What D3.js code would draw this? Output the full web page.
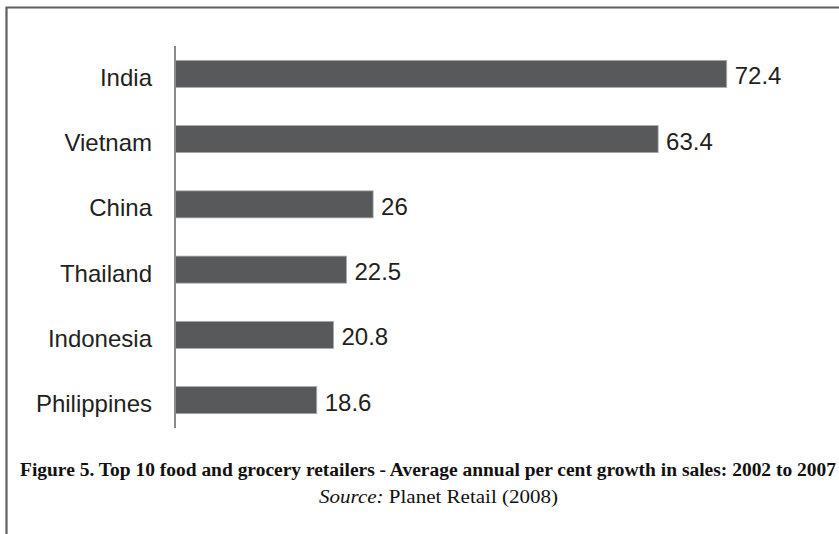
<!DOCTYPE html>
<html>
<head>
<meta charset="utf-8">
<script src="https://cdn.jsdelivr.net/npm/d3@7"></script>
<style>
  html, body { margin: 0; padding: 0; background: #fff; }
  svg { display: block; }
</style>
</head>
<body>
<svg id="chart" width="839" height="534"></svg>
<script>
const categories = ["India", "Vietnam", "China", "Thailand", "Indonesia", "Philippines"];
const values = [72.4, 63.4, 26, 22.5, 20.8, 18.6];
const valueLabels = ["72.4", "63.4", "26", "22.5", "20.8", "18.6"];
const captionTitle = "Figure 5. Top 10 food and grocery retailers - Average annual per cent growth in sales: 2002 to 2007";
const captionSourceLabel = "Source:";
const captionSourceText = " Planet Retail (2008)";

const svg = d3.select("#chart");
const W = 839, H = 534;

// frame
svg.append("path")
  .attr("d", `M6.5,${H} L6.5,7.5 L${W},7.5`)
  .attr("fill", "none")
  .attr("stroke", "#5f5f5f")
  .attr("stroke-width", 2.2);

const x0 = 175;
const x = d3.scaleLinear().domain([0, 72.4]).range([x0, 726.7]);
const y = d3.scaleBand().domain(categories).range([46, 428]).paddingInner(0.586).paddingOuter(0.22);

const data = categories.map((c, i) => ({ c, v: values[i], l: valueLabels[i] }));

svg.append("g").selectAll("rect").data(data).join("rect")
  .attr("x", x0)
  .attr("y", d => y(d.c))
  .attr("width", d => x(d.v) - x0)
  .attr("height", y.bandwidth())
  .attr("fill", "#58595b")
  .attr("stroke", "#a7a9ac")
  .attr("stroke-width", 0.8);

// axis line
svg.append("line")
  .attr("x1", x0).attr("x2", x0)
  .attr("y1", 46).attr("y2", 428)
  .attr("stroke", "#8a8a8a")
  .attr("stroke-width", 2);

svg.append("g").selectAll("text.cat").data(data).join("text")
  .attr("class", "cat")
  .attr("x", 152)
  .attr("y", d => y(d.c) + y.bandwidth() / 2 + 12)
  .attr("text-anchor", "end")
  .attr("font-family", "Liberation Sans, Arial, sans-serif")
  .attr("font-size", 24)
  .attr("fill", "#231f20")
  .text(d => d.c);

svg.append("g").selectAll("text.val").data(data).join("text")
  .attr("class", "val")
  .attr("x", d => x(d.v) + 8)
  .attr("y", d => y(d.c) + y.bandwidth() / 2 + 10.5)
  .attr("font-family", "Liberation Sans, Arial, sans-serif")
  .attr("font-size", 24)
  .attr("fill", "#231f20")
  .text(d => d.l);

svg.append("text")
  .attr("x", 20)
  .attr("y", 476)
  .attr("font-family", "Liberation Serif, Times New Roman, serif")
  .attr("font-weight", "bold")
  .attr("font-size", 18)
  .attr("textLength", 816)
  .attr("lengthAdjust", "spacingAndGlyphs")
  .attr("fill", "#111")
  .text(captionTitle);

const src = svg.append("text")
  .attr("x", 319)
  .attr("y", 503)
  .attr("font-family", "Liberation Serif, Times New Roman, serif")
  .attr("font-size", 19)
  .attr("textLength", 239)
  .attr("lengthAdjust", "spacingAndGlyphs")
  .attr("fill", "#111");
src.append("tspan").attr("font-style", "italic").text(captionSourceLabel);
src.append("tspan").text(captionSourceText);
</script>
</body>
</html>
